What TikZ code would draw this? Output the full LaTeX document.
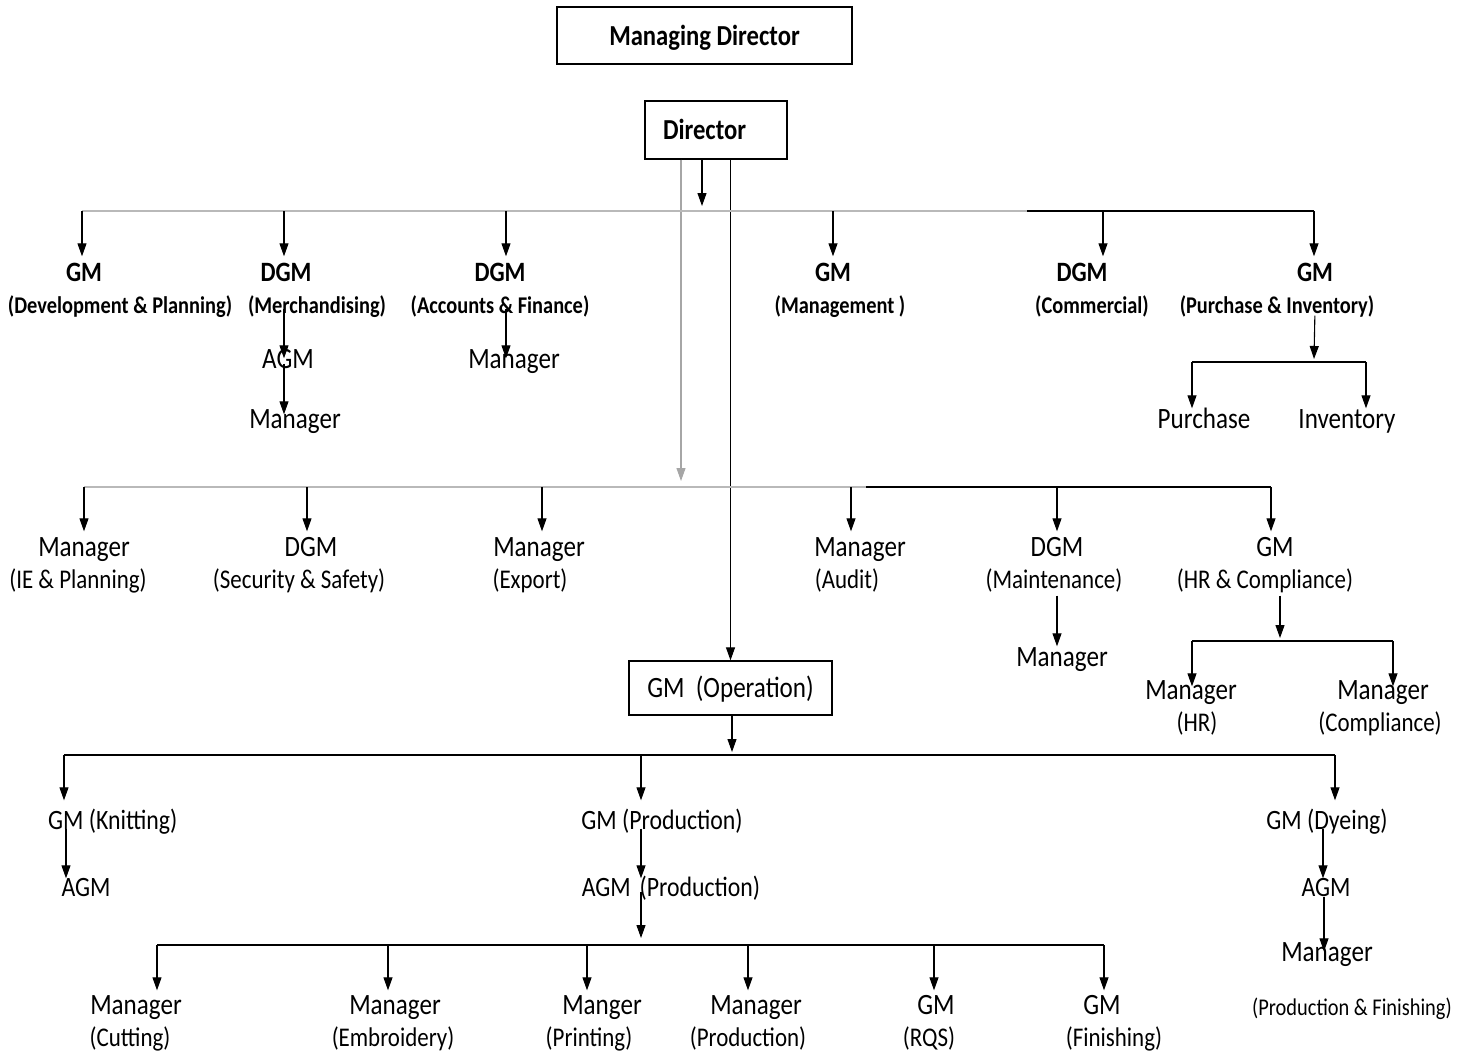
\documentclass[tikz,border=0pt]{standalone}
\usepackage{fontspec}
\setmainfont{Carlito}[FakeStretch=0.85]
\usetikzlibrary{arrows.meta}
\newcommand\dropx[4][11]{\draw[arr,shorten >=#1pt] ([xshift=#3pt]#2.north |- #4) -- ([xshift=#3pt]#2.north);}
\begin{document}
\begin{tikzpicture}[x=1pt,y=-1pt,
 low/.style={execute at begin node={\lower6pt\hbox\bgroup}, execute at end node={\egroup}},
 lbl/.style={inner sep=0pt, text height=0.8em, text depth=0.1em, low, font=\fontsize{29.5}{32}\selectfont},
 lblc/.style={lbl, font=\fontsize{28}{32}\selectfont},
 sub/.style={inner sep=0pt, text height=0.8em, text depth=0.1em, low, font=\fontsize{27}{30}\selectfont},
 lblb/.style={lbl, font=\fontsize{28}{32}\selectfont\bfseries},
 subb/.style={sub, font=\fontsize{24}{28}\selectfont\bfseries},
 box/.style={draw, line width=1.3pt, inner sep=0pt, text height=0.8em, text depth=0.1em, low},
 arr/.style={-{Triangle[length=13pt,width=9pt]}, line width=1.1pt},
 ln/.style={line width=1.2pt},
 gl/.style={line width=1.6pt, gray!55},
 thk/.style={line width=2pt}
]
\useasboundingbox (0,0) rectangle (1470,1055);

% boxes
\node[box, minimum width=295pt, minimum height=57pt, font=\fontsize{29}{32}\selectfont\bfseries] (md) at (704.5,35.5) {Managing Director};
\node[box, minimum height=58pt, text width=106pt, inner xsep=18pt, align=left, font=\fontsize{29}{32}\selectfont\bfseries] (dir) at (716,130) {Director};
\node[box, minimum width=203pt, minimum height=54pt, font=\fontsize{29.5}{32}\selectfont] (op) at (730.5,688) {GM~~(Operation)};

% bus coordinates
\coordinate (b1) at (702,211);
\coordinate (b1L) at (82,211);
\coordinate (b1M) at (1027,211);
\coordinate (b1R) at (1314,211);
\coordinate (b2) at (681,487);
\coordinate (b2L) at (84,487);
\coordinate (b2M) at (866,487);
\coordinate (b2R) at (1271,487);
\coordinate (b3L) at (64,755);
\coordinate (b3R) at (1335,755);
\coordinate (b3) at (732,755);
\coordinate (b4L) at (157,945);
\coordinate (b4R) at (1104,945);
\coordinate (b4) at (641,945);

% from director
\draw[arr] (dir.south -| b1) -- ([yshift=5pt]b1);
\draw[arr, gray!70] (dir.south -| b2) -- ([yshift=6pt]b2);
\draw[arr] (dir.south -| op) -- (op.north);
\draw[arr] (op.south -| b3) -- ([yshift=3pt]b3);

% bus lines
\draw[gl] (b1L) -- (b1M);
\draw[ln] (b1M) -- (b1R);
\draw[gl] (b2L) -- (b2M);
\draw[thk] (b2M) -- (b2R);
\draw[ln] (b3L) -- (b3R);
\draw[thk] (b4L) -- (b4R);

% row 1
\node[lblb] (t11) at (84,272) {GM};
\node[subb] (s11) at (120,304) {(Development \& Planning)};
\node[lblb] (t12) at (286,272) {DGM};
\node[subb] (s12) at (317,304) {(Merchandising)};
\node[lblb] (t13) at (500,272) {DGM};
\node[subb] (s13) at (500,304) {(Accounts \& Finance)};
\node[lblb] (t14) at (833,272) {GM};
\node[subb] (s14) at (840,304) {(Management )};
\node[lblb] (t15) at (1082,272) {DGM};
\node[subb] (s15) at (1092,304) {(Commercial)};
\node[lblb] (t16) at (1315,272) {GM};
\node[subb] (s16) at (1277,304) {(Purchase \& Inventory)};
\dropx{t11}{-2}{b1L}
\dropx{t12}{-2}{b1L}
\dropx{t13}{6}{b1L}
\dropx{t14}{0}{b1L}
\dropx{t15}{21}{b1L}
\dropx{t16}{-1}{b1L}

\node[lbl] (a12) at (288,359) {AGM};
\node[lbl] (m12) at (295,419) {Manager};
\draw[arr, shorten >=-4pt] ([xshift=-4pt]a12.north |- s12.south) -- ([xshift=-4pt]a12.north);
\draw[arr] ([xshift=-4pt]a12.south) -- ([xshift=-11pt]m12.north);
\node[lbl] (m13) at (514,359) {Manager};
\draw[arr, shorten >=-4pt] ([xshift=6pt]s13.south) -- ([xshift=6pt]s13.south |- m13.north);

\node[lbl] (p1) at (1204,419) {Purchase};
\node[lbl] (p2) at (1347,419) {Inventory};
\coordinate (pb) at (1314,362);
\draw[arr, shorten <=7pt] (t16 |- s16.south) -- ([yshift=3pt]pb);
\draw[thk] ([xshift=-12pt]p1.north |- pb) -- ([xshift=19pt]p2.north |- pb);
\draw[arr, shorten >=6pt] ([xshift=-12pt]p1.north |- pb) -- ([xshift=-12pt]p1.north);
\draw[arr, shorten >=6pt] ([xshift=19pt]p2.north |- pb) -- ([xshift=19pt]p2.north);

% row 2
\node[lbl] (t21) at (84,547) {Manager};
\node[sub] (s21) at (78,579) {(IE \& Planning)};
\node[lbl] (t22) at (311,547) {DGM};
\node[sub] (s22) at (299,579) {(Security \& Safety)};
\node[lbl] (t23) at (539,547) {Manager};
\node[sub] (s23) at (530,579) {(Export)};
\node[lbl] (t24) at (860,547) {Manager};
\node[sub] (s24) at (847,579) {(Audit)};
\node[lbl] (t25) at (1057,547) {DGM};
\node[sub] (s25) at (1054,579) {(Maintenance)};
\node[lbl] (t26) at (1275,547) {GM};
\node[sub] (s26) at (1265,579) {(HR \& Compliance)};
\dropx{t21}{0}{b2L}
\dropx{t22}{-4}{b2L}
\dropx{t23}{3}{b2L}
\dropx{t24}{-9}{b2L}
\dropx{t25}{0}{b2L}
\dropx{t26}{-4}{b2L}

\node[lbl] (m25) at (1062,657) {Manager};
\draw[arr, shorten <=12pt, shorten >=6pt] (t25 |- s25.south) -- (t25 |- m25.north);

\node[lbl] (mh) at (1191,690) {Manager};
\node[sub] (sh) at (1197,722) {(HR)};
\node[lbl] (mc) at (1383,690) {Manager};
\node[sub] (sc) at (1380,722) {(Compliance)};
\coordinate (hb) at (1280,641);
\draw[arr, shorten <=12pt] ([xshift=15pt]s26.south) -- ([yshift=3pt]hb);
\draw[thk] ([xshift=1pt]mh.north |- hb) -- ([xshift=10pt]mc.north |- hb);
\draw[arr, shorten >=-1pt] ([xshift=1pt]mh.north |- hb) -- ([xshift=1pt]mh.north);
\draw[arr, shorten >=-1pt] ([xshift=10pt]mc.north |- hb) -- ([xshift=10pt]mc.north);

% row 3
\node[lblc, anchor=west] (k1) at (48,820) {GM (Knitting)};
\node[lblc] (k2) at (662,820) {GM (Production)};
\node[lblc] (k3) at (1327,820) {GM (Dyeing)};
\draw[arr, shorten >=15pt] (b3L) -- (b3L |- k1.north);
\draw[arr, shorten >=15pt] (b4 |- b3L) -- (b4 |- k2.north);
\draw[arr, shorten >=15pt] (b3R) -- (b3R |- k3.north);

\node[lblc] (ka) at (86,887) {AGM};
\draw[arr, shorten <=4pt, shorten >=4pt] ([xshift=18pt]k1.south west) -- ([xshift=18pt]k1.south west |- ka.north);
\node[lblc] (pa) at (671,887) {AGM\hspace{0.12em} (Production)};
\draw[arr, shorten <=4pt, shorten >=4pt] (b4 |- k2.south) -- (b4 |- pa.north);
\draw[arr] (b4 |- pa.south) -- ([yshift=7pt]b4);
\node[lblc] (da) at (1326,887) {AGM};
\draw[arr, shorten <=4pt, shorten >=4pt] ([xshift=-4pt]k3.south) -- ([xshift=-3pt]da.north);
\node[lbl] (dm) at (1327,952) {Manager};
\node[sub, font=\fontsize{24}{26}\selectfont] (ds) at (1352,1006) {(Production \& Finishing)};
\draw[arr, shorten <=5pt, shorten >=-4pt] ([xshift=-2pt]da.south) -- ([xshift=-3pt]dm.north);

% row 4
\node[lbl] (t41) at (136,1005) {Manager};
\node[sub] (s41) at (130,1037) {(Cutting)};
\node[lbl] (t42) at (395,1005) {Manager};
\node[sub] (s42) at (393,1037) {(Embroidery)};
\node[lbl] (t43) at (602,1005) {Manger};
\node[sub] (s43) at (589,1037) {(Printing)};
\node[lbl] (t44) at (756,1005) {Manager};
\node[sub] (s44) at (748,1037) {(Production)};
\node[lbl] (t45) at (936,1005) {GM};
\node[sub] (s45) at (929,1037) {(RQS)};
\node[lbl] (t46) at (1102,1005) {GM};
\node[sub] (s46) at (1114,1037) {(Finishing)};
\dropx[10]{t41}{21}{b4L}
\dropx[10]{t42}{-7}{b4L}
\dropx[10]{t43}{-15}{b4L}
\dropx[10]{t44}{-8}{b4L}
\dropx[10]{t45}{-2}{b4L}
\dropx[10]{t46}{2}{b4L}
\end{tikzpicture}
\end{document}
